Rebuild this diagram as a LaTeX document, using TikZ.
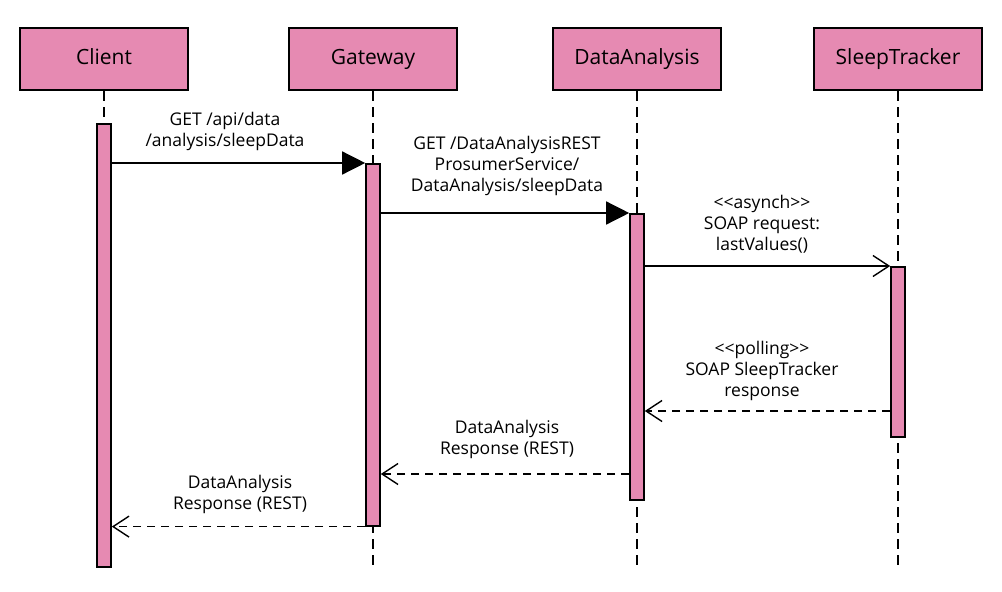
\documentclass[tikz,border=0pt]{standalone}
\usepackage{fontspec}
\setmainfont{Open Sans}
\usetikzlibrary{arrows.meta,calc}

\definecolor{rosa}{RGB}{230,138,178}

\tikzset{
    header/.style={draw, fill=rosa, line width=2pt, minimum width=168pt, minimum height=62pt,
        font=\fontsize{21}{25}\selectfont},
    bar/.style={draw, fill=rosa, line width=1.6pt, minimum width=14pt, inner sep=0pt, anchor=north},
    lifeline/.style={line width=1.4pt, dash pattern=on 10pt off 6pt},
    call/.style={line width=1.4pt, -{Triangle[length=23pt,width=23pt]}},
    async/.style={line width=1.4pt, -{Straight Barb[length=16pt,width=21pt,line width=1.4pt]}},
    reply/.style={line width=1.4pt, dash pattern=on 8pt off 6pt,
        -{Straight Barb[length=16pt,width=21pt,line width=1.4pt,sep=0pt]}},
    msg/.style={align=center, inner sep=0pt, font=\fontsize{17.5}{21}\selectfont}
}

\begin{document}
\begin{tikzpicture}[x=1pt,y=-1pt]
        \useasboundingbox (0,0) rectangle (1002,592);

        % Partecipanti
        \node[header] (client) at (104,59) {\raisebox{4pt}{Client}};
        \node[header] (gateway) at (373,59) {\raisebox{4pt}{Gateway}};
        \node[header] (analysis) at (637,59) {\raisebox{4pt}{DataAnalysis}};
        \node[header] (tracker) at (898,59) {\raisebox{4pt}{SleepTracker}};

        % Linee di vita
        \foreach \p in {client,gateway,analysis,tracker}
            \draw[lifeline] (\p.south) -- (\p.south |- 0,566);

        % Barre di attivazione
        \node[bar, minimum height=443pt] (cbar) at (client.south |- 0,123) {};
        \node[bar, minimum height=362pt] (gbar) at (gateway.south |- 0,163) {};
        \node[bar, minimum height=286pt] (abar) at (analysis.south |- 0,213) {};
        \node[bar, minimum height=170pt] (tbar) at (tracker.south |- 0,266) {};

        % Punti dei messaggi di ritorno
        \coordinate (pollstart) at (tbar.west |- 0,411);
        \coordinate (pollend) at (abar.east |- 0,411);
        \coordinate (restA) at (abar.west |- 0,474);
        \coordinate (restB) at (gbar.east |- 0,474);

        % Richieste
        \draw[call] (cbar.east |- gbar.north) -- (gbar.north west);
        \draw[call] (gbar.east |- abar.north) -- (abar.north west);
        \draw[async] (abar.east |- tbar.north) -- (tbar.north west);

        % Risposte
        \draw[reply] (pollstart) -- (pollend);
        \draw[reply] (restA) -- (restB);
        \draw[reply] (gbar.south west) -- (cbar.east |- gbar.south);

        % Etichette
        \node[msg] (m1) at (225,131) {GET /api/data\\/analysis/sleepData};
        \node[msg] (m2) at (507,166) {GET /DataAnalysisREST\\ProsumerService/\\DataAnalysis/sleepData};
        \node[msg] (m3) at (762,224) {{<}{<}asynch{>}{>}\\SOAP request:\\lastValues()};
        \node[msg] (m4) at (762,371) {{<}{<}polling{>}{>}\\SOAP SleepTracker\\response};
        \node[msg] (m5) at (507,439) {DataAnalysis\\Response (REST)};
        \node[msg] (m6) at (240,494) {DataAnalysis\\Response (REST)};
\end{tikzpicture}
\end{document}
